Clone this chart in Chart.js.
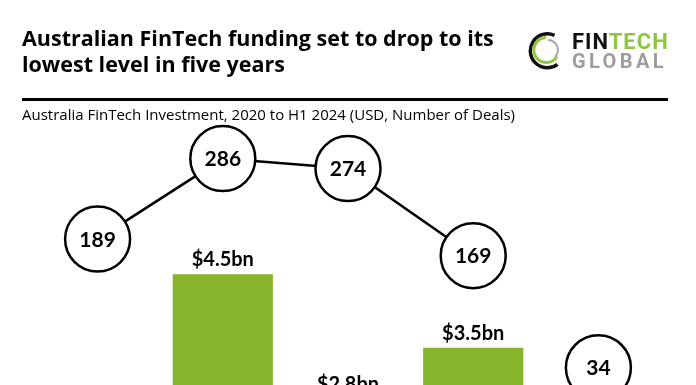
<!DOCTYPE html>
<html>
<head>
<meta charset="utf-8">
<script src="https://cdn.jsdelivr.net/npm/chart.js@4"></script>
<style>
  html, body { margin: 0; padding: 0; background: #fff; overflow: hidden; }
  #page { position: relative; width: 696px; height: 385px; overflow: hidden; background: #fff; }
  #title { position: absolute; left: 22px; top: 25px; font: bold 21.5px "Open Sans", sans-serif; line-height: 26px; color: #000; white-space: nowrap; }
  #rule { position: absolute; left: 22px; top: 98px; width: 646px; height: 3px; background: #000; }
  #subtitle { position: absolute; left: 22px; top: 105px; font: 15px "Open Sans", sans-serif; line-height: 18px; color: #000; white-space: nowrap; }
  #logo-ring { position: absolute; left: 526px; top: 30px; }
  #logo1 { position: absolute; left: 572px; top: 30px; font: bold 22px Roboto, sans-serif; line-height: 24px; letter-spacing: 1px; }
  #logo2 { position: absolute; left: 572px; top: 49px; font: bold 20px Roboto, sans-serif; line-height: 24px; color: #9d9d9d; letter-spacing: 3.4px; }
  #wrap { position: absolute; left: 0; top: 0; width: 696px; height: 650px; }
</style>
</head>
<body>
<div id="page">
  <div id="wrap"><canvas id="c" width="696" height="650"></canvas></div>
  <div id="title">Australian FinTech funding set to drop to its<br>lowest level in five years</div>
  <svg id="logo-ring" width="42" height="42" viewBox="0 0 42 42">
    <path d="M 28.5 5.4 A 17 17 0 1 0 31.5 34.4" fill="none" stroke="#111" stroke-width="3.4"/>
    <path d="M 20 7.5 A 12.5 12.5 0 1 0 31 26.5" fill="none" stroke="#8dc63f" stroke-width="3"/>
    <path d="M 22 10 A 10 10 0 0 1 29 27" fill="none" stroke="#a8a8a8" stroke-width="2"/>
  </svg>
  <div id="logo1"><span style="color:#111">FIN</span><span style="color:#8dc63f">TECH</span></div>
  <div id="logo2">GLOBAL</div>
  <div id="rule"></div>
  <div id="subtitle">Australia FinTech Investment, 2020 to H1 2024 (USD, Number of Deals)</div>
</div>
<script>
// ---- data ----
const categories = ['2020', '2021', '2022', '2023', 'H1 2024'];
const fundingBn = [2.1, 4.5, 2.8, 3.5, 0.5];
const fundingLabels = ['$2.1bn', '$4.5bn', '$2.8bn', '$3.5bn', '$0.5bn'];
const deals = [189, 286, 274, 169, 34];

const BAR_GREEN = '#86b52b';

const labelPlugin = {
  id: 'labels',
  afterDatasetsDraw(chart) {
    const ctx = chart.ctx;
    ctx.save();
    const barMeta = chart.getDatasetMeta(1);
    ctx.fillStyle = '#000';
    ctx.font = 'bold 20px Lato, sans-serif';
    ctx.textAlign = 'center';
    ctx.textBaseline = 'alphabetic';
    barMeta.data.forEach((el, i) => {
      ctx.fillText(fundingLabels[i], el.x, el.y - 8);
    });
    const lineMeta = chart.getDatasetMeta(0);
    ctx.font = 'bold 21px Lato, sans-serif';
    lineMeta.data.forEach((el, i) => {
      ctx.fillText(String(deals[i]), el.x, el.y + 7.5);
    });
    ctx.restore();
  }
};

new Chart(document.getElementById('c'), {
  data: {
    labels: categories,
    datasets: [
      {
        type: 'line',
        label: 'Number of Deals',
        data: deals,
        yAxisID: 'yDeals',
        order: 0,
        clip: false,
        borderColor: '#000',
        borderWidth: 2.5,
        pointRadius: 32.5,
        pointBackgroundColor: '#fff',
        pointBorderColor: '#000',
        pointBorderWidth: 2.5,
        tension: 0,
        segment: {
          borderColor: ctx => ctx.p1DataIndex === categories.length - 1 ? 'rgba(0,0,0,0)' : '#000'
        }
      },
      {
        type: 'bar',
        label: 'Investment (USD bn)',
        data: fundingBn,
        yAxisID: 'yBar',
        order: 1,
        backgroundColor: BAR_GREEN,
        barPercentage: 0.8,
        categoryPercentage: 1.0
      }
    ]
  },
  options: {
    responsive: false,
    animation: false,
    events: [],
    layout: { padding: { top: 140, left: 22, right: 27, bottom: 45.4 } },
    plugins: { legend: { display: false }, tooltip: { enabled: false } },
    scales: {
      x: { type: 'category', display: false, offset: true },
      yBar: { type: 'linear', display: false, min: 0, max: 6.33 },
      yDeals: { type: 'linear', display: false, min: -251.4, max: 308.4 }
    }
  },
  plugins: [labelPlugin]
});
</script>
</body>
</html>
